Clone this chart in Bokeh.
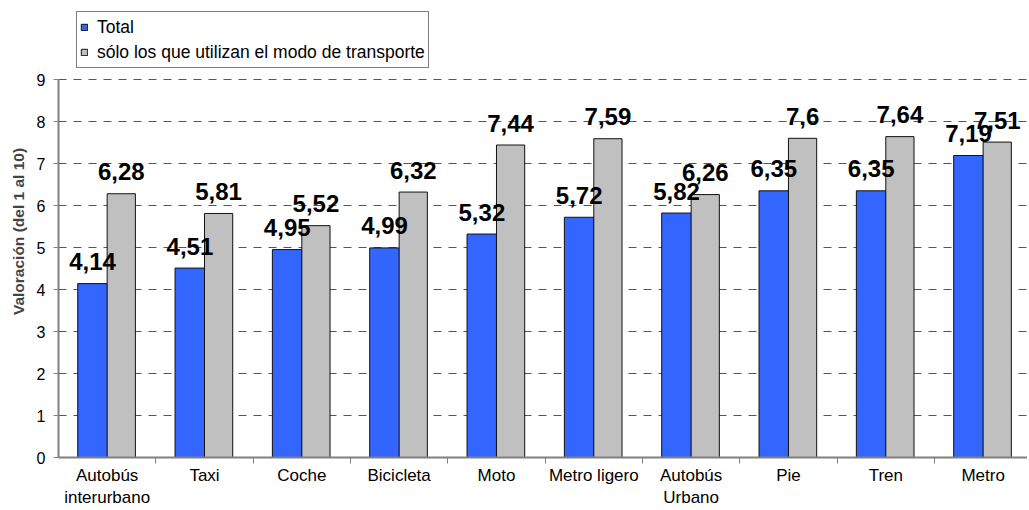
import numpy as np
from bokeh.plotting import figure
from bokeh.models import Range1d, FixedTicker, Legend, LegendItem, ColumnDataSource
from bokeh.core.properties import value
from bokeh.embed import file_html
from bokeh.resources import INLINE

categories = ["Autobús\ninterurbano", "Taxi", "Coche", "Bicicleta", "Moto",
              "Metro ligero", "Autobús\nUrbano", "Pie", "Tren", "Metro"]
total = [4.14, 4.51, 4.95, 4.99, 5.32, 5.72, 5.82, 6.35, 6.35, 7.19]
usuarios = [6.28, 5.81, 5.52, 6.32, 7.44, 7.59, 6.26, 7.6, 7.64, 7.51]
series_names = ["Total", "sólo los que utilizan el modo de transporte"]
y_ticks = list(range(0, 10))

FONT = "Liberation Sans"
pos = np.arange(1, len(categories) + 1)

def fmt(v):
    return ("%g" % v).replace(".", ",")

src = ColumnDataSource(dict(
    x1=pos - 0.15, x2=pos + 0.145, total=total, usuarios=usuarios,
    l1=[fmt(v) for v in total], l2=[fmt(v) for v in usuarios],
))

# frame: left 58, top 5, bottom 457 -> 42 px per unit, 97.33 px per category
p = figure(width=1027, height=510, x_range=Range1d(0.5, 10.456),
           y_range=Range1d(0, 10.762), output_backend="svg", toolbar_location=None,
           min_border_left=58, min_border_right=0, min_border_top=5,
           min_border_bottom=53, background_fill_color="white")
p.outline_line_color = None
p.xgrid.grid_line_color = None
p.ygrid.grid_line_color = "#555555"
p.ygrid.grid_line_dash = "8 7"
p.ygrid.grid_line_width = 1

b1 = p.vbar(x="x1", top="total", width=0.305, source=src, fill_color="#3366FF",
            line_color="#111111", line_width=1)
b2 = p.vbar(x="x2", top="usuarios", width=0.29, source=src, fill_color="#C0C0C0",
            line_color="#111111", line_width=1)

for xcol, ycol, lcol in (("x1", "total", "l1"), ("x2", "usuarios", "l2")):
    p.text(x=xcol, y=ycol, text=lcol, source=src, text_font=value(FONT),
           text_font_size="24px", text_font_style="bold", text_align="center",
           text_baseline="alphabetic", y_offset=-22, text_color="black")

# y axis
p.yaxis.ticker = FixedTicker(ticks=y_ticks)
p.yaxis.bounds = (0, 9)
p.yaxis.axis_line_color = "#808080"
p.yaxis.axis_line_width = 2
p.yaxis.major_tick_line_color = "#808080"
p.yaxis.major_tick_out = 5
p.yaxis.major_tick_in = 0
p.yaxis.minor_tick_line_color = None
p.yaxis.major_label_text_font = FONT
p.yaxis.major_label_text_font_size = "16px"
p.yaxis.major_label_text_color = "black"
p.yaxis.major_label_standoff = 8
p.yaxis.axis_label = "Valoración (del 1 al 10)"
p.yaxis.axis_label_text_font = FONT
p.yaxis.axis_label_text_font_size = "15.5px"
p.yaxis.axis_label_text_font_style = "bold"
p.yaxis.axis_label_standoff = 7

# x axis
p.xaxis.ticker = FixedTicker(ticks=list(pos), minor_ticks=list(pos[:-1] + 0.5) + [10.5])
p.xaxis.major_label_overrides = {int(i): c for i, c in zip(pos, categories)}
p.xaxis.axis_line_color = "#808080"
p.xaxis.axis_line_width = 2
p.xaxis.major_tick_line_color = None
p.xaxis.major_tick_out = 0
p.xaxis.major_tick_in = 0
p.xaxis.minor_tick_line_color = "#808080"
p.xaxis.minor_tick_out = 6
p.xaxis.minor_tick_in = 0
p.xaxis.major_label_text_font = FONT
p.xaxis.major_label_text_font_size = "17px"
p.xaxis.major_label_text_color = "black"
p.xaxis.major_label_standoff = 2

legend = Legend(items=[LegendItem(label=series_names[0], renderers=[b1]),
                       LegendItem(label=series_names[1], renderers=[b2])],
                location=(18, 389), orientation="vertical")
legend.label_text_font = FONT
legend.label_text_font_size = "17.5px"
legend.label_text_color = "black"
legend.label_height = 24
legend.glyph_height = 8
legend.glyph_width = 8
legend.label_standoff = 9
legend.spacing = 1
legend.padding = 3
legend.margin = 0
legend.border_line_color = "black"
legend.border_line_width = 1
legend.background_fill_alpha = 1
p.add_layout(legend)

open("out.html", "w").write(file_html(p, INLINE))
